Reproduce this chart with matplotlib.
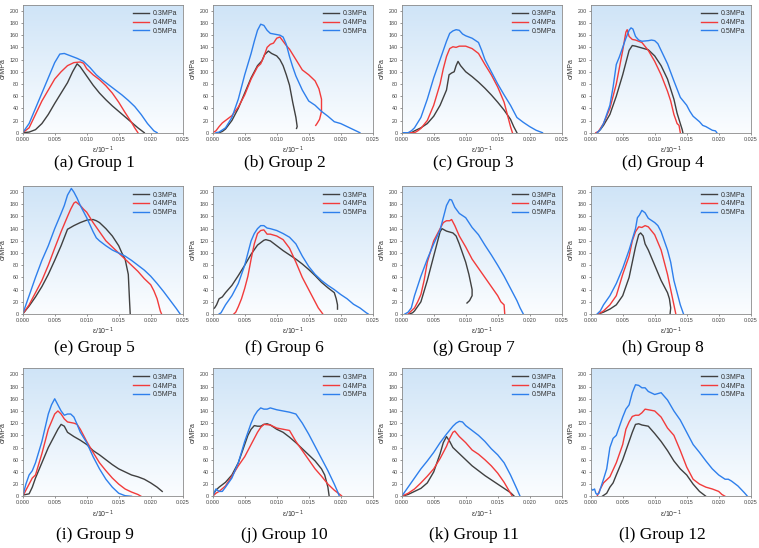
import numpy as np
import matplotlib
matplotlib.use("Agg")
import matplotlib.pyplot as plt
from matplotlib.colors import LinearSegmentedColormap

# strain values are given in units of 1e-3, stress in MPa
G1_03_e = [0, 1, 2, 3, 4, 5, 6, 7, 7.8, 8.5, 9, 10, 11, 12, 13, 14, 15, 16, 17, 18, 19]
G1_03_s = [0, 1, 5, 15, 30, 48, 65, 82, 100, 113, 108, 93, 78, 65, 54, 44, 35, 26, 17, 8, 0]
G1_04_e = [0, 1, 2, 3, 4, 5, 6, 7, 8, 9, 9.5, 10, 11, 12, 13, 14, 15, 16, 17, 17.5, 18]
G1_04_s = [0, 8, 30, 52, 70, 88, 100, 110, 115, 116, 114, 105, 95, 87, 77, 65, 50, 33, 17, 8, 0]
G1_05_e = [0, 1, 2, 3, 4, 5, 5.8, 6.5, 7.5, 8.5, 9.5, 10.5, 11.5, 12.5, 13.5, 14.5, 15.5, 16.5, 17.5, 18.5, 19.5, 20.5, 21]
G1_05_s = [0, 15, 40, 65, 90, 115, 129, 130, 126, 122, 117, 107, 95, 86, 78, 70, 62, 53, 43, 30, 15, 3, 0]

G2_03_e = [1, 1.5, 2, 3, 4, 5, 6, 7, 7.7, 8.1, 8.7, 9.2, 10, 10.5, 11, 11.5, 12, 12.5, 13, 13.2, 13.1]
G2_03_s = [0, 2, 6, 20, 40, 65, 90, 110, 118, 128, 134, 130, 126, 120, 110, 95, 78, 50, 25, 10, 7]
G2_04_e = [0, 0.5, 1, 1.5, 2, 3, 4, 5, 6, 7, 7.5, 8, 8.5, 9, 9.5, 10, 10.5, 11, 11.5, 12, 13, 14, 15, 16, 16.6, 17, 17, 16.7, 16.3, 16.1]
G2_04_s = [0, 3, 10, 16, 20, 28, 42, 62, 88, 108, 113, 125, 140, 145, 147, 155, 157, 150, 143, 137, 120, 103, 95, 85, 72, 55, 35, 22, 15, 12]
G2_05_e = [0.5, 1, 2, 3, 4, 5, 6, 6.5, 7, 7.5, 8, 8.5, 9, 10, 10.5, 11, 11.5, 12, 12.5, 13, 14, 15, 16, 17, 18, 19, 20, 21, 22, 23]
G2_05_s = [0, 1, 8, 25, 55, 95, 130, 150, 168, 178, 176, 168, 163, 161, 160, 157, 145, 125, 108, 93, 70, 52, 45, 35, 27, 18, 15, 10, 5, 0]

G3_03_e = [1.5, 2, 3, 4, 5, 6, 7, 7.4, 7.8, 8.2, 8.5, 8.8, 9.2, 10, 11, 12, 13, 14, 15, 16, 17, 17.5, 18]
G3_03_s = [0, 3, 8, 15, 27, 45, 70, 95, 98, 100, 110, 117, 110, 100, 92, 83, 73, 62, 50, 37, 22, 10, 0]
G3_04_e = [0, 1, 2, 2.5, 3, 4, 5, 6, 6.5, 7, 7.5, 8, 8.5, 9, 10, 11, 12, 13, 14, 15, 16, 16.5, 17, 17.3]
G3_04_s = [0, 0, 0, 3, 7, 20, 45, 80, 105, 125, 138, 141, 140, 142, 142, 138, 130, 112, 95, 75, 50, 30, 10, 0]
G3_05_e = [0, 1, 1.5, 2, 3, 4, 5, 6, 7, 7.5, 8, 8.5, 9, 9.5, 10, 11, 12, 12.5, 13, 14, 15, 16, 17, 18, 19, 20, 21, 22]
G3_05_s = [0, 0, 3, 8, 25, 55, 90, 120, 150, 163, 167, 169, 168, 162, 159, 155, 148, 135, 120, 100, 80, 62, 45, 25, 17, 10, 4, 0]

G4_03_e = [1, 1.5, 2, 3, 4, 5, 5.5, 6, 6.5, 7, 8, 9, 10, 11, 12, 13, 13.5, 14, 14.3, 14.4]
G4_03_s = [0, 5, 12, 30, 60, 95, 115, 135, 143, 142, 139, 136, 126, 110, 88, 55, 32, 15, 5, 0]
G4_04_e = [0.8, 1.2, 2, 3, 4, 5, 5.5, 5.7, 6, 6.5, 7, 8, 9, 10, 11, 12, 12.5, 13, 13.5, 13.8, 14]
G4_04_s = [0, 2, 15, 40, 80, 135, 165, 169, 158, 153, 152, 148, 135, 117, 95, 68, 52, 30, 15, 12, 0]
G4_05_e = [1, 1.5, 2, 3, 3.5, 4, 4.5, 5, 5.5, 6, 6.3, 6.6, 7, 7.5, 8, 9, 9.5, 10, 10.5, 11, 12, 13, 14, 15, 15.5, 16, 17, 17.5, 18, 19, 19.5, 19.7]
G4_05_s = [0, 5, 15, 45, 75, 112, 125, 140, 155, 168, 172, 170, 158, 152, 150, 151, 152, 151, 146, 135, 113, 85, 58, 45, 35, 27, 18, 12, 10, 4, 3, 0]

G5_03_e = [0, 1, 2, 3, 4, 5, 6, 7, 8, 9, 10, 11, 11.5, 12, 13, 14, 15, 15.5, 16, 16.5, 16.7, 16.8]
G5_03_s = [0, 13, 28, 45, 65, 88, 112, 139, 145, 150, 154, 155, 153, 150, 140, 128, 112, 100, 90, 65, 20, 0]
G5_04_e = [0, 1, 2, 3, 4, 5, 6, 7, 7.5, 8, 8.3, 9, 9.5, 10, 11, 12, 13, 14, 15, 16, 17, 18, 19, 20, 20.5, 21, 21.5, 21.7]
G5_04_s = [0, 15, 35, 55, 80, 108, 135, 160, 172, 182, 184, 178, 172, 167, 150, 135, 120, 110, 100, 90, 80, 70, 58, 48, 38, 25, 5, 0]
G5_05_e = [0, 0.5, 1, 2, 3, 4, 5, 6, 6.5, 7, 7.6, 8, 8.5, 9, 10, 11, 11.5, 12, 13, 14, 15, 16, 17, 18, 19, 20, 21, 22, 23, 24, 24.6]
G5_05_s = [0, 15, 30, 60, 88, 112, 140, 165, 178, 195, 206, 200, 190, 178, 158, 135, 125, 120, 112, 105, 100, 95, 88, 80, 72, 62, 50, 37, 23, 9, 0]

G6_03_e = [0, 0.3, 0.6, 1, 1.5, 2, 3, 4, 5, 6, 7, 8, 8.3, 9, 10, 11, 12, 13, 14, 15, 16, 17, 18, 19, 19.3, 19.5, 19.5]
G6_03_s = [8, 10, 15, 25, 28, 35, 47, 63, 80, 98, 113, 121, 122, 120, 112, 104, 97, 90, 82, 73, 63, 52, 43, 35, 25, 15, 8]
G6_04_e = [3.3, 3.6, 4, 4.5, 5, 5.5, 6, 6.5, 7, 7.5, 8, 8.5, 9, 10, 11, 12, 13, 14, 15, 16, 16.5, 17, 17.2]
G6_04_s = [0, 3, 12, 25, 42, 62, 90, 115, 132, 137, 138, 131, 131, 128, 122, 108, 85, 60, 40, 20, 10, 3, 0]
G6_05_e = [1, 1.3, 2, 3, 4, 5, 6, 6.5, 7, 7.5, 8, 8.5, 9, 10, 11, 12, 13, 14, 15, 16, 17, 18, 19, 20, 21, 22, 23, 24, 24.3]
G6_05_s = [0, 2, 15, 30, 50, 80, 120, 132, 140, 145, 145, 141, 140, 137, 132, 126, 115, 95, 78, 65, 55, 47, 40, 32, 25, 16, 10, 2, 0]

G7_03_e = [1.2, 1.7, 2, 3, 4, 5, 5.5, 6, 6.3, 7, 8, 8.5, 9, 9.5, 10, 10.5, 11, 11, 10.6, 10.2]
G7_03_s = [0, 2, 5, 20, 55, 95, 115, 135, 140, 136, 133, 128, 115, 100, 85, 65, 40, 30, 22, 18]
G7_04_e = [1, 1.5, 2, 2.5, 3, 3.5, 4, 5, 6, 6.5, 7, 7.5, 7.8, 8.3, 9, 10, 11, 12, 13, 14, 15, 15.5, 16, 16.1]
G7_04_s = [0, 5, 10, 20, 32, 55, 85, 120, 140, 150, 153, 153, 155, 145, 128, 110, 90, 75, 60, 45, 30, 20, 15, 0]
G7_05_e = [0.5, 1, 1.5, 2, 3, 4, 5, 6, 6.5, 7, 7.5, 7.8, 8.3, 9, 10, 10.5, 11, 12, 13, 14, 15, 16, 17, 18, 18.5, 19]
G7_05_s = [0, 3, 10, 30, 62, 90, 115, 138, 158, 178, 188, 187, 175, 165, 158, 150, 142, 130, 113, 97, 80, 62, 42, 22, 10, 0]

G8_03_e = [1.2, 2, 3, 4, 5, 6, 6.5, 7, 7.5, 7.8, 8.2, 8.5, 9, 10, 11, 12, 12.3, 12.5, 12.4]
G8_03_s = [0, 3, 8, 15, 30, 60, 85, 110, 130, 133, 128, 115, 105, 80, 55, 35, 25, 10, 0]
G8_04_e = [1.2, 2, 3, 4, 5, 6, 6.5, 7, 7.5, 8, 8.5, 9, 10, 11, 12, 12.5, 13, 13.3]
G8_04_s = [0, 5, 15, 30, 65, 95, 120, 135, 143, 142, 145, 143, 130, 105, 65, 40, 15, 0]
G8_05_e = [1, 1.5, 2, 3, 4, 5, 6, 7, 7.3, 7.6, 8, 8.5, 9, 10, 10.5, 11, 12, 12.5, 13, 13.5, 14, 14.5]
G8_05_s = [0, 5, 15, 30, 50, 75, 105, 140, 158, 162, 170, 166, 157, 150, 145, 135, 105, 85, 55, 35, 15, 0]

G9_03_e = [0, 0.5, 1, 1.5, 2, 3, 4, 5, 5.5, 6, 6.5, 7, 8, 9, 10, 11, 12, 13, 14, 15, 16, 17, 18, 19, 20, 21, 21.8]
G9_03_s = [2, 3, 4, 15, 30, 55, 80, 100, 110, 118, 115, 105, 98, 92, 85, 75, 68, 60, 52, 45, 40, 35, 32, 28, 22, 15, 8]
G9_04_e = [0, 0.5, 1, 1.5, 2, 3, 4, 5, 5.5, 6, 6.5, 7, 8, 8.5, 9, 10, 11, 12, 13, 14, 15, 16, 17, 18, 18.5]
G9_04_s = [0, 10, 20, 30, 35, 70, 110, 135, 140, 135, 127, 122, 120, 118, 110, 90, 72, 55, 42, 30, 20, 12, 7, 3, 0]
G9_05_e = [0, 0.5, 1, 1.5, 2, 3, 4, 4.5, 5, 5.5, 6, 6.5, 7, 7.5, 8, 8.5, 9, 10, 11, 12, 13, 14, 15, 16, 17]
G9_05_s = [0, 20, 35, 42, 55, 90, 135, 150, 160, 150, 140, 133, 135, 135, 130, 118, 105, 88, 65, 45, 28, 15, 5, 1, 0]

G10_03_e = [0, 0.5, 1, 2, 3, 4, 5, 5.5, 6, 6.5, 7, 7.5, 8, 8.5, 9, 10, 11, 12, 13, 14, 15, 16, 17, 17.5, 18, 18.2]
G10_03_s = [2, 10, 15, 23, 35, 55, 85, 100, 110, 116, 115, 115, 118, 119, 117, 110, 105, 97, 88, 78, 68, 58, 45, 35, 15, 0]
G10_04_e = [0, 0.5, 1, 2, 3, 4, 5, 6, 7, 7.5, 8, 9, 10, 11, 12, 13, 14, 15, 16, 17, 18, 19, 20, 20.2]
G10_04_s = [0, 5, 8, 17, 33, 50, 65, 85, 105, 113, 118, 117, 112, 110, 108, 90, 75, 60, 45, 33, 20, 10, 2, 0]
G10_05_e = [0, 0.5, 1, 1.5, 2, 3, 4, 5, 6, 6.5, 7, 7.5, 8, 8.5, 9, 10, 11, 12, 13, 14, 15, 16, 17, 18, 19, 19.5, 19.8]
G10_05_s = [0, 12, 8, 8, 15, 30, 55, 90, 120, 132, 140, 145, 143, 143, 145, 142, 140, 138, 135, 120, 102, 82, 62, 42, 20, 8, 0]

G11_03_e = [0, 1, 2, 3, 4, 5, 6, 6.5, 7, 7.5, 8, 9, 10, 11, 12, 13, 14, 15, 16, 17, 17.6]
G11_03_s = [0, 3, 8, 13, 22, 40, 70, 88, 98, 90, 80, 70, 60, 50, 42, 34, 27, 20, 13, 6, 0]
G11_04_e = [0, 1, 2, 3, 4, 5, 6, 7, 7.5, 8, 8.3, 9, 10, 11, 12, 13, 14, 15, 16, 17, 17.3]
G11_04_s = [0, 5, 12, 22, 33, 45, 62, 82, 95, 105, 107, 98, 88, 76, 69, 60, 50, 38, 23, 5, 0]
G11_05_e = [0, 1, 2, 3, 4, 5, 6, 7, 8, 8.5, 9, 9.5, 10, 11, 12, 13, 14, 15, 16, 17, 18, 18.5]
G11_05_s = [0, 15, 30, 45, 58, 72, 88, 102, 115, 120, 123, 122, 116, 108, 100, 90, 78, 68, 55, 35, 12, 0]

G12_03_e = [1.8, 2.5, 3, 3.5, 4, 5, 6, 6.5, 7, 7.5, 8, 8.5, 9, 10, 11, 12, 13, 14, 15, 16, 17, 18]
G12_03_s = [0, 5, 15, 22, 35, 60, 90, 105, 118, 119, 117, 116, 115, 103, 90, 75, 58, 45, 35, 20, 8, 0]
G12_04_e = [1, 1.5, 2, 2.5, 3, 4, 5, 5.5, 6, 6.5, 7, 7.5, 8, 8.5, 9, 10, 11, 12, 13, 14, 15, 16, 17, 18, 19, 20, 20.5, 21]
G12_04_s = [0, 12, 22, 27, 32, 55, 85, 110, 122, 131, 133, 133, 137, 143, 142, 140, 130, 112, 100, 75, 48, 28, 20, 15, 12, 8, 3, 0]
G12_05_e = [0, 0.3, 0.6, 0.8, 1, 1.3, 1.5, 2, 2.5, 3, 3.5, 4, 5, 5.5, 6, 6.5, 7, 7.5, 8, 8.5, 9, 10, 11, 12, 13, 14, 15, 16, 17, 18, 19, 20, 21, 21.5, 22, 23, 24, 24.5]
G12_05_s = [13, 10, 12, 5, 3, 5, 12, 28, 45, 80, 95, 100, 130, 143, 150, 170, 183, 182, 178, 178, 172, 167, 170, 158, 140, 125, 105, 85, 72, 58, 45, 35, 28, 28, 25, 17, 6, 0]

series_labels = ["0.3MPa", "0.4MPa", "0.5MPa"]
series_colors = ["#404040", "#f23b3b", "#2e7fec"]
captions = ["(a) Group 1", "(b) Group 2", "(c) Group 3", "(d) Group 4",
            "(e) Group 5", "(f) Group 6", "(g) Group 7", "(h) Group 8",
            "(i) Group 9", "(j) Group 10", "(k) Group 11", "(l) Group 12"]
yticks = list(range(0, 201, 20))
xticks = [0.000, 0.005, 0.010, 0.015, 0.020, 0.025]

groups = [
    [(G1_03_e, G1_03_s), (G1_04_e, G1_04_s), (G1_05_e, G1_05_s)],
    [(G2_03_e, G2_03_s), (G2_04_e, G2_04_s), (G2_05_e, G2_05_s)],
    [(G3_03_e, G3_03_s), (G3_04_e, G3_04_s), (G3_05_e, G3_05_s)],
    [(G4_03_e, G4_03_s), (G4_04_e, G4_04_s), (G4_05_e, G4_05_s)],
    [(G5_03_e, G5_03_s), (G5_04_e, G5_04_s), (G5_05_e, G5_05_s)],
    [(G6_03_e, G6_03_s), (G6_04_e, G6_04_s), (G6_05_e, G6_05_s)],
    [(G7_03_e, G7_03_s), (G7_04_e, G7_04_s), (G7_05_e, G7_05_s)],
    [(G8_03_e, G8_03_s), (G8_04_e, G8_04_s), (G8_05_e, G8_05_s)],
    [(G9_03_e, G9_03_s), (G9_04_e, G9_04_s), (G9_05_e, G9_05_s)],
    [(G10_03_e, G10_03_s), (G10_04_e, G10_04_s), (G10_05_e, G10_05_s)],
    [(G11_03_e, G11_03_s), (G11_04_e, G11_04_s), (G11_05_e, G11_05_s)],
    [(G12_03_e, G12_03_s), (G12_04_e, G12_04_s), (G12_05_e, G12_05_s)],
]

W, H = 759, 548
fig = plt.figure(figsize=(W / 100, H / 100), dpi=100)
plt.rcParams['font.family'] = ['Liberation Sans', 'DejaVu Sans']

col_left = [22.7, 212.7, 401.7, 590.7]
ax_w = 160
row_top = [4.7, 186.0, 368.3]
ax_h = 128
caption_y = [163, 348, 535]

grad = LinearSegmentedColormap.from_list("bg", ["#fbfdff", "#cfe4f7"])
gimg = np.linspace(0, 1, 256).reshape(-1, 1)

for i, curves in enumerate(groups):
    r, c = divmod(i, 4)
    left = col_left[c] / W
    bottom = (H - row_top[r] - ax_h) / H
    ax = fig.add_axes([left, bottom, ax_w / W, ax_h / H])
    ax.imshow(gimg, cmap=grad, aspect='auto', extent=[0, 0.025, 210, 0],
              zorder=0, interpolation='bilinear')
    for (e, s), lab, col in zip(curves, series_labels, series_colors):
        ax.plot(np.array(e) / 1000.0, s, color=col, lw=1.0, label=lab, zorder=2)
    ax.set_xlim(0, 0.025)
    ax.set_ylim(0, 210)
    ax.set_xticks(xticks)
    ax.set_xticklabels([f"{v:.3f}" for v in xticks])
    ax.set_yticks(yticks)
    ax.tick_params(labelsize=3.9, length=1.5, width=0.4, pad=1.5, colors='#444444')
    for sp in ax.spines.values():
        sp.set_color('#8a8a8a')
        sp.set_linewidth(0.6)
    ax.set_xlabel(r"ε/10$^{-1}$", fontsize=5, labelpad=2, color='#333333')
    ax.set_ylabel("σ/MPa", fontsize=5, labelpad=1.5, color='#333333')
    leg = ax.legend(loc='upper right', fontsize=5, frameon=False,
                    handlelength=2.3, handletextpad=0.5, labelspacing=0.25,
                    borderaxespad=0.4)
    for t in leg.get_texts():
        t.set_color('#333333')
    fig.text((col_left[c] + ax_w / 2 - 8) / W, 1 - caption_y[i // 4] / H, captions[i],
             ha='center', va='center', fontsize=12.5, family='Liberation Serif')

fig.savefig("out.png", dpi=100)
